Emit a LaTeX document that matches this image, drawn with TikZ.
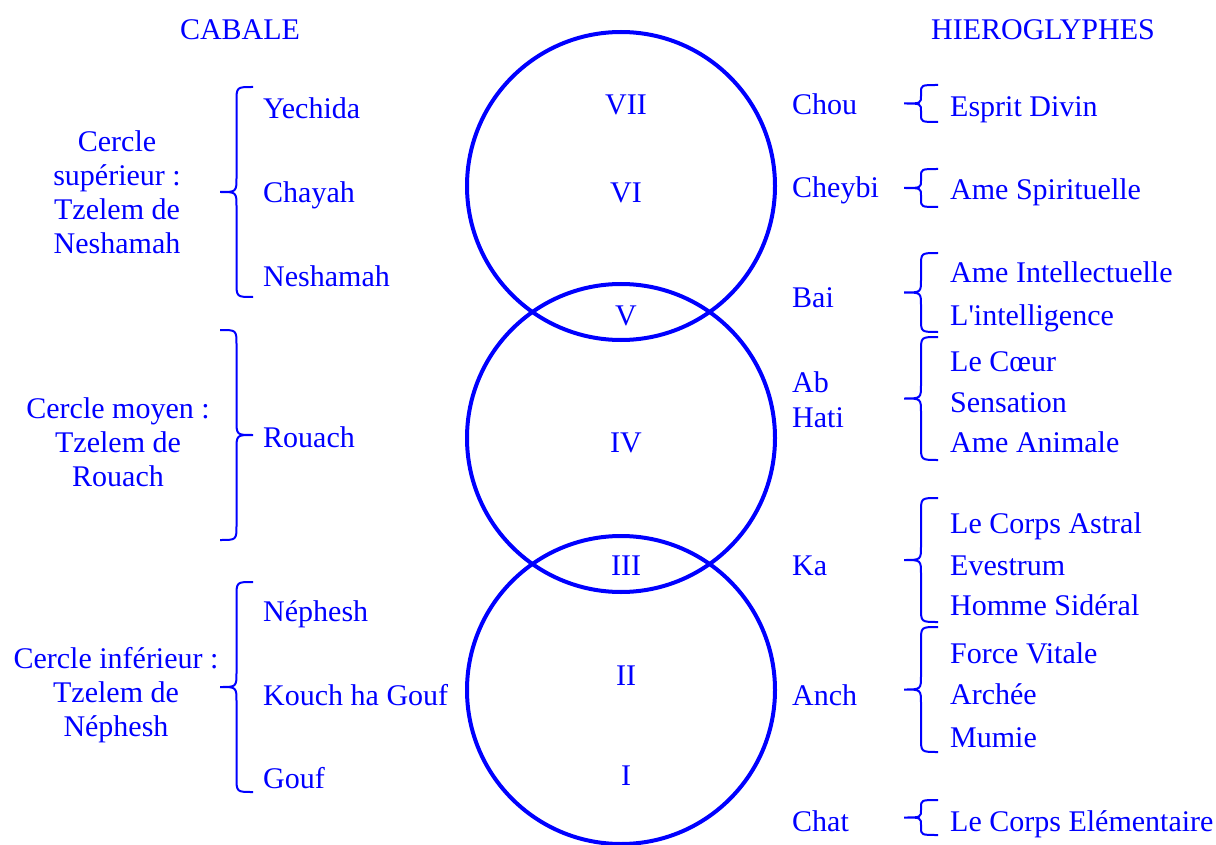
\documentclass[tikz,border=0pt]{standalone}
\usepackage{fontspec}
\setmainfont{Liberation Serif}
\usetikzlibrary{positioning}
\definecolor{cbBlue}{RGB}{0, 0, 255}
\tikzset{
    base/.style={
        font=\fontsize{30}{34}\selectfont,
        text=cbBlue,
        inner sep=0pt
    },
    item/.style={
        base,
        anchor=base west
    },
    group/.style={
        base,
        align=center
    },
    numeral/.style={
        base,
        anchor=base
    },
    ring/.style={
        circle,
        draw=cbBlue,
        line width=4pt,
        minimum size=308pt,
        inner sep=0pt
    },
    brc/.style={
        draw=cbBlue,
        line width=2pt
    }
}
% #1 x of the ends, #2 top, #3 bottom, #4 amplitude (>0: tip to the left), #5 curl
\newcommand{\drawbrace}[5]{%
  \draw[brc] (#1,#2) .. controls ({#1-(#4)/2},#2) .. ({#1-(#4)/2},{#2+#5})
    -- ({#1-(#4)/2},{(#2+#3)/2-#5}) .. controls ({#1-(#4)/2},{(#2+#3)/2}) .. ({#1-(#4)},{(#2+#3)/2})
    .. controls ({#1-(#4)/2},{(#2+#3)/2}) .. ({#1-(#4)/2},{(#2+#3)/2+#5})
    -- ({#1-(#4)/2},{#3-#5}) .. controls ({#1-(#4)/2},#3) .. (#1,#3);}

\begin{document}
\begin{tikzpicture}[x=1pt, y=-1pt]
  \useasboundingbox (0,0) rectangle (1216,845);

  % Circles
  \node[ring] (sup) at (621,186) {};
  \node[ring] (moy) at (621,438) {};
  \node[ring] (inf) at (621,690) {};

  % Numerals
  \node[numeral] (n7) at (626,115) {VII};
  \node[numeral] (n6) at (626,203) {VI};
  \node[numeral] (n5) at (626,325) {V};
  \node[numeral] (n4) at (626,452) {IV};
  \node[numeral] (n3) at (626,575) {III};
  \node[numeral] (n2) at (626,685) {II};
  \node[numeral] (n1) at (626,785) {I};

  % Headers
  \node[numeral] (cabale) at (240,40) {CABALE};
  \node[numeral] (hiero) at (1043,40) {HIEROGLYPHES};

  % Cabale
  \node[group] (gSup) at (117,192) {Cercle\\supérieur :\\Tzelem de\\Neshamah};
  \node[group] (gMoy) at (118,442) {Cercle moyen :\\Tzelem de\\Rouach};
  \node[group] (gInf) at (116,695) {Cercle inférieur :\\Tzelem de\\Néphesh};

  \node[item] (yech) at (263,119) {Yechida};
  \node[item] (chay) at (263,203) {Chayah};
  \node[item] (nesh) at (263,287) {Neshamah};
  \node[item] (rouach) at (263,447) {Rouach};
  \node[item] (neph) at (263,621) {Néphesh};
  \node[item] (kouch) at (263,705) {Kouch ha Gouf};
  \node[item] (gouf) at (263,788) {Gouf};

  \drawbrace{253}{87}{297}{33}{15}
  \drawbrace{220}{330}{540}{-33}{15}
  \drawbrace{253}{582}{792}{33}{15}

  % Hieroglyphes
  \node[item] (chou) at (792,115) {Chou};
  \node[item] (cheybi) at (792,198) {Cheybi};
  \node[item] (bai) at (792,307) {Bai};
  \node[base, align=left, anchor=west, font=\fontsize{30}{35}\selectfont] (abhati) at (792,400) {Ab\\Hati};
  \node[item] (ka) at (792,575) {Ka};
  \node[item] (anch) at (792,705) {Anch};
  \node[item] (chat) at (792,831) {Chat};

  \node[item] (esprit) at (950,117) {Esprit Divin};
  \node[item] (spirit) at (950,200) {Ame Spirituelle};
  \node[item] (intel) at (950,283) {Ame Intellectuelle};
  \node[item] (intelli) at (950,325) {L\textquotesingle intelligence};
  \node[item] (coeur) at (950,371) {Le Cœur};
  \node[item] (sens) at (950,412) {Sensation};
  \node[item] (anim) at (950,452) {Ame Animale};
  \node[item] (astral) at (950,533) {Le Corps Astral};
  \node[item] (evest) at (950,575) {Evestrum};
  \node[item] (sider) at (950,615) {Homme Sidéral};
  \node[item] (force) at (950,663) {Force Vitale};
  \node[item] (archee) at (950,704) {Archée};
  \node[item] (mumie) at (950,747) {Mumie};
  \node[item] (elem) at (950,831) {Le Corps Elémentaire};

  \drawbrace{938}{85}{122}{34}{8}
  \drawbrace{938}{169}{207}{34}{8}
  \drawbrace{938}{253}{332}{34}{13}
  \drawbrace{938}{337}{460}{34}{14}
  \drawbrace{938}{498}{622}{34}{14}
  \drawbrace{938}{627}{752}{34}{14}
  \drawbrace{938}{800}{835}{34}{8}

\end{tikzpicture}
\end{document}
